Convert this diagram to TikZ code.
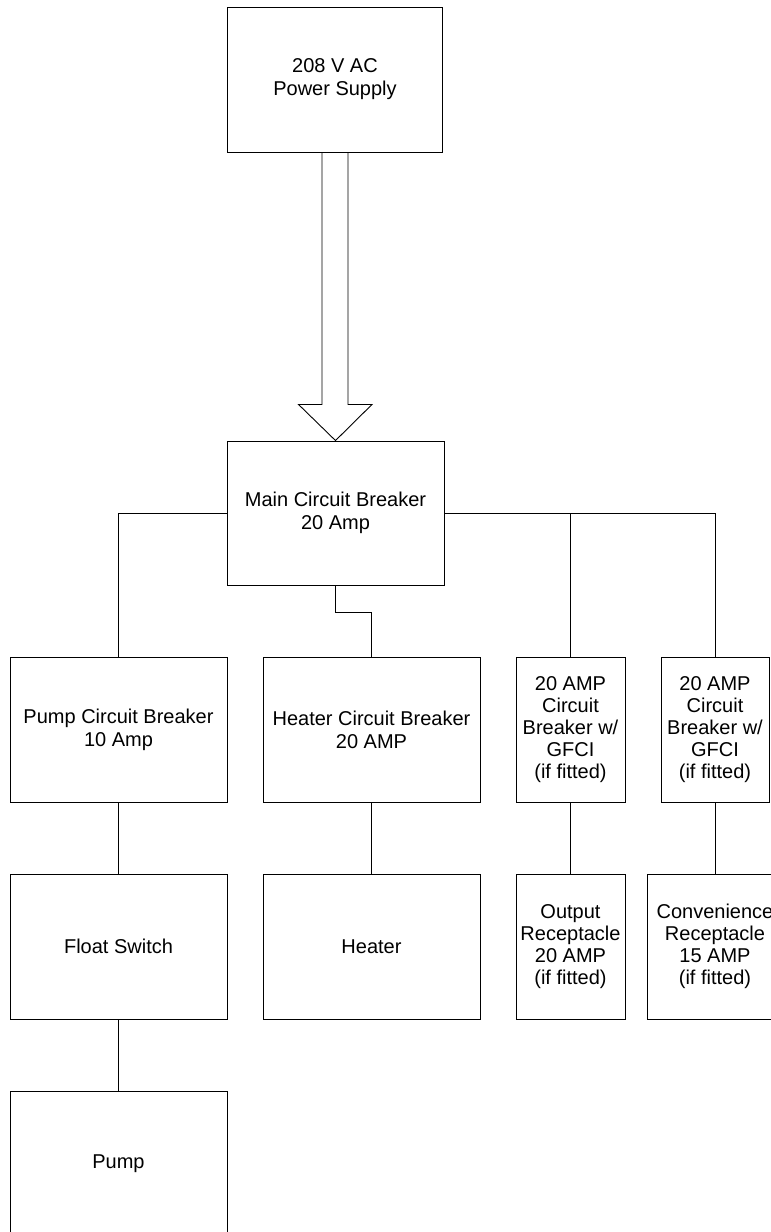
\documentclass[tikz,border=0pt]{standalone}
\usepackage{fontspec}
\setmainfont{Liberation Sans}
\usetikzlibrary{calc}
\begin{document}
\begin{tikzpicture}[x=1pt,y=1pt,
  box/.style={draw=black, line width=0.9pt, rectangle, inner sep=0pt, align=center,
    minimum height=145pt, font=\fontsize{20}{23}\selectfont},
  wide/.style={box, minimum width=217pt},
  narrow/.style={box, minimum width=109pt, font=\fontsize{20}{22}\selectfont},
  wire/.style={line width=0.9pt, draw=black}]
\useasboundingbox (0,0) rectangle (771,-1232);
\clip (0,0) rectangle (771,-1232);
\node[box, minimum width=215pt] (ps) at (335,-79.5) {208 V AC\\Power Supply};
\node[wide, minimum height=144pt] (mcb) at (335.5,-513) {Main Circuit Breaker\\20 Amp};
\node[wide] (pcb) at (118.5,-729.5) {Pump Circuit Breaker\\10 Amp};
\node[wide] (hcb) at (371.5,-729.5) {Heater Circuit Breaker\\20 AMP};
\node[narrow] (gf1) at (570.5,-729.5) {20 AMP\\Circuit\\Breaker w/\\GFCI\\(if fitted)};
\node[narrow, minimum width=108pt] (gf2) at (715,-729.5) {20 AMP\\Circuit\\Breaker w/\\GFCI\\(if fitted)};
\node[wide] (fs) at (118.5,-946.5) {Float Switch};
\node[wide] (ht) at (371.5,-946.5) {Heater};
\node[narrow] (out) at (570.5,-946.5) {Output\\Receptacle\\20 AMP\\(if fitted)};
\node[narrow, minimum width=136pt] (conv) at (715,-946.5) {Convenience\\Receptacle\\15 AMP\\(if fitted)};
\node[wide] (pump) at (118.5,-1163.5) {Pump};
% block arrow
\draw[wire, line join=miter] ($(ps.south)+(-13,0)$) -- ($(ps.south)+(-13,-252)$) -- ($(ps.south)+(-36.5,-252)$)
  -- (mcb.north) -- ($(ps.south)+(37,-252)$) -- ($(ps.south)+(13,-252)$) -- ($(ps.south)+(13,0)$);
% wires
\draw[wire] (mcb.west) -| (pcb.north);
\draw[wire] (mcb.east) -| (gf1.north);
\draw[wire] (mcb.east) -| (gf2.north);
\draw[wire] (mcb.south) -- ++(0,-27) -| (hcb.north);
\draw[wire] (pcb.south) -- (fs.north);
\draw[wire] (fs.south) -- (pump.north);
\draw[wire] (hcb.south) -- (ht.north);
\draw[wire] (gf1.south) -- (out.north);
\draw[wire] (gf2.south) -- (conv.north);
\end{tikzpicture}
\end{document}
